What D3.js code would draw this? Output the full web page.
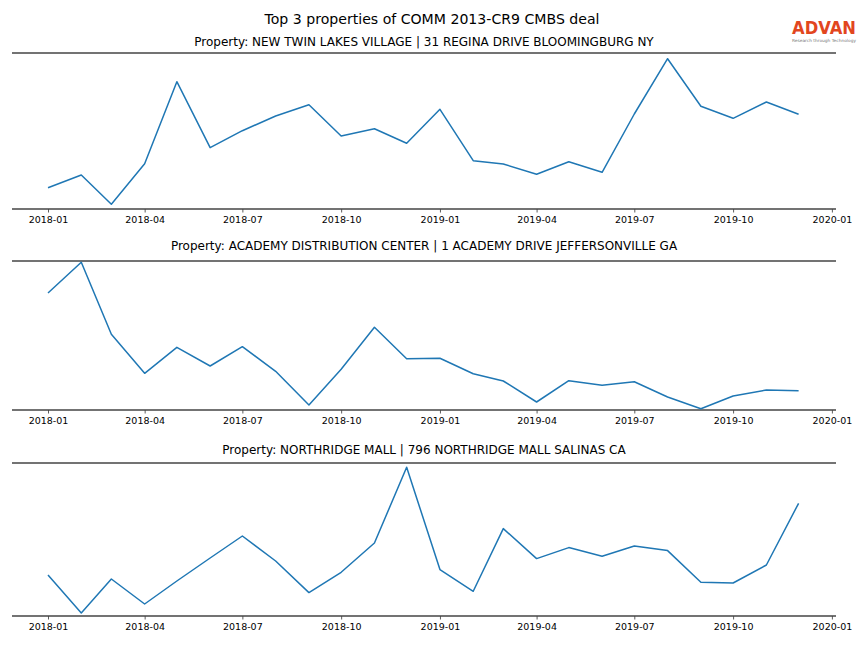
<!DOCTYPE html>
<html><head><meta charset="utf-8">
<script src="https://cdn.jsdelivr.net/npm/d3@7"></script>
<style>body{margin:0;background:#fff}svg{display:block}text{font-family:"DejaVu Sans",sans-serif}</style>
</head><body><svg id="c" width="864" height="648"></svg>
<script>
const months = ["2018-01","2018-02","2018-03","2018-04","2018-05","2018-06","2018-07","2018-08","2018-09","2018-10","2018-11","2018-12",
"2019-01","2019-02","2019-03","2019-04","2019-05","2019-06","2019-07","2019-08","2019-09","2019-10","2019-11","2019-12"];
const tickLabels = ["2018-01","2018-04","2018-07","2018-10","2019-01","2019-04","2019-07","2019-10","2020-01"];
const titles = [
 "Property: NEW TWIN LAKES VILLAGE | 31 REGINA DRIVE BLOOMINGBURG NY",
 "Property: ACADEMY DISTRIBUTION CENTER | 1 ACADEMY DRIVE JEFFERSONVILLE GA",
 "Property: NORTHRIDGE MALL | 796 NORTHRIDGE MALL SALINAS CA"];
const series1 = [213,340,47,453,1273,613,783,930,1043,730,803,657,997,483,450,347,473,367,950,1503,1027,907,1070,947];
const series2 = [1170,1477,757,367,627,440,633,387,50,407,827,513,517,363,290,80,293,247,283,130,13,140,200,193];
const series3 = [410,30,370,120,350,580,800,550,234,437,730,1487,464,247,874,574,684,597,700,654,337,330,510,1127];
const yDomains = [[0,1560],[0,1490],[0,1530]];
const allSeries = [series1, series2, series3];

const svg = d3.select("#c");
const parse = d3.utcParse("%Y-%m");
const x = d3.scaleUtc().domain([parse("2018-01"), parse("2019-12")]).range([48, 798.6]);
const axL = 12, axR = 836;
const panels = [{top:53,bottom:209,title:42},{top:261,bottom:410,title:246},{top:463,bottom:616,title:450}];

svg.append("text").attr("x",432).attr("y",24).attr("text-anchor","middle").attr("font-size",14.1).attr("fill","#000")
  .text("Top 3 properties of COMM 2013-CR9 CMBS deal");

// logo
svg.append("text").attr("x",792).attr("y",34).attr("font-size",18).attr("font-weight","bold")
  .attr("fill","#e2461e").attr("font-family","Liberation Sans, sans-serif").attr("textLength",64).attr("lengthAdjust","spacingAndGlyphs").text("ADVAN");
svg.append("text").attr("x",792).attr("y",42).attr("font-size",4.2).attr("fill","#777")
  .attr("textLength",64).attr("lengthAdjust","spacingAndGlyphs").text("Research through Technology");

panels.forEach((p,i)=>{
  const data = allSeries[i].map((v,j)=>({d:parse(months[j]), v}));
  const y = d3.scaleLinear().domain(yDomains[i]).range([p.bottom, p.top]);
  const g = svg.append("g");
  g.append("text").attr("x",424).attr("y",p.title+4).attr("text-anchor","middle").attr("font-size",12).attr("fill","#000").text(titles[i]);
  g.append("line").attr("x1",axL).attr("x2",axR).attr("y1",p.top).attr("y2",p.top).attr("stroke","#444").attr("stroke-width",1.6);
  const axis = d3.axisBottom(x).tickValues(tickLabels.map(parse)).tickFormat(d3.utcFormat("%Y-%m")).tickSize(3.5).tickPadding(3.5);
  const ag = g.append("g").attr("transform",`translate(0,${p.bottom})`).call(axis);
  ag.select(".domain").remove();
  ag.selectAll(".tick line").attr("stroke","#333").attr("stroke-width",0.8);
  ag.selectAll(".tick text").attr("font-size",9.5).attr("fill","#000").attr("font-family","DejaVu Sans, sans-serif");
  g.append("line").attr("x1",axL).attr("x2",axR).attr("y1",p.bottom).attr("y2",p.bottom).attr("stroke","#444").attr("stroke-width",1.6);
  g.append("path").datum(data).attr("fill","none").attr("stroke","#1f77b4").attr("stroke-width",1.5)
   .attr("stroke-linejoin","round")
   .attr("d", d3.line().x(d=>x(d.d)).y(d=>y(d.v)));
});
</script></body></html>
